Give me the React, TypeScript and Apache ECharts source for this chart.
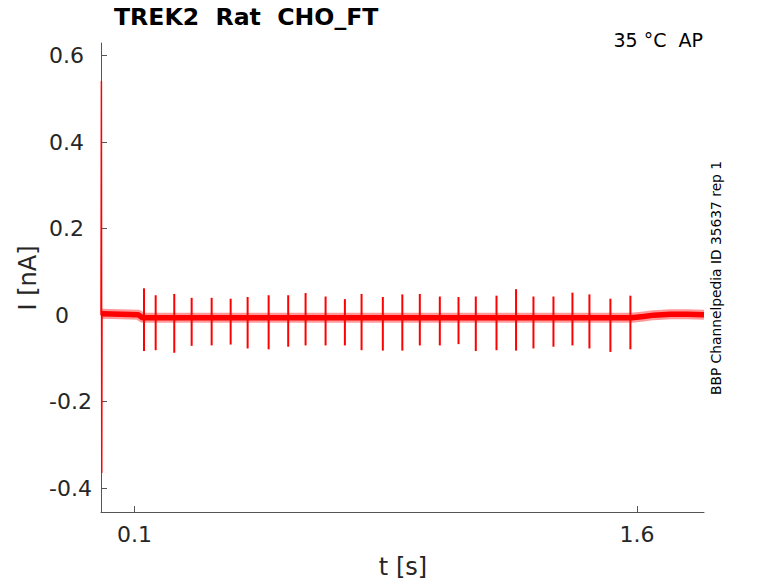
import React, { useEffect, useRef } from "react";
import * as echarts from "echarts";

// Slow baseline of the recorded current (nA) over time (s)
const baseT = [0.003, 0.06, 0.111, 0.124, 0.5, 1.0, 1.5, 1.585, 1.62, 1.65, 1.7, 1.75, 1.8];
const baseV = [0.003, 0.002, 0.001, -0.006, -0.006, -0.006, -0.006, -0.006, -0.003, 0.0, 0.002, 0.002, 0.001];

// Initial capacitive transient
const transT = [0.0, 0.0012, 0.0022, 0.003];
const transV = [0.0, 0.541, -0.365, 0.003];

// Action-potential-evoked current spikes
const spikeT = [
  0.1283, 0.1632, 0.2187, 0.2706, 0.3303, 0.387, 0.4377, 0.5004, 0.5588, 0.6107,
  0.6704, 0.728, 0.7778, 0.8413, 0.8995, 0.9517, 1.0114, 1.0672, 1.1188, 1.1806,
  1.239, 1.2909, 1.3506, 1.4073, 1.458, 1.5206, 1.5803,
];
const spikeUp = [
  0.062, 0.046, 0.049, 0.04, 0.04, 0.038, 0.042, 0.046, 0.046, 0.051,
  0.043, 0.037, 0.049, 0.042, 0.048, 0.049, 0.043, 0.042, 0.043, 0.045,
  0.06, 0.043, 0.043, 0.052, 0.048, 0.038, 0.045,
];
const spikeDown = [
  -0.083, -0.081, -0.087, -0.071, -0.07, -0.068, -0.077, -0.079, -0.073, -0.07,
  -0.07, -0.07, -0.081, -0.082, -0.082, -0.07, -0.07, -0.067, -0.083, -0.081,
  -0.082, -0.077, -0.073, -0.07, -0.077, -0.085, -0.079,
];

const xTicks = [0.1, 1.6];
const yTicks = [-0.4, -0.2, 0, 0.2, 0.4, 0.6];

const FONT = "DejaVu Sans";
const RED = "#ff0000";
const LABEL = "#262626";

export default function App() {
  const ref = useRef<HTMLDivElement>(null);
  useEffect(() => {
    if (!ref.current) return;
    const chart = echarts.init(ref.current, null, { renderer: "svg" });
    const axisCommon = {
      axisLine: { show: true, onZero: false, lineStyle: { color: "#555555", width: 1 } },
      axisTick: { show: true, inside: true, length: 6, lineStyle: { color: "#555555" } },
      splitLine: { show: false },
    };
    const labelFont = { fontFamily: FONT, fontSize: 22, color: LABEL };
    const baseData = baseT.map((t, i) => [t, baseV[i]]);
    chart.setOption({
      animation: false,
      backgroundColor: "#ffffff",
      grid: { left: 101, top: 43, right: 74, bottom: 71, containLabel: false },
      xAxis: {
        type: "value",
        min: 0,
        max: 1.8,
        ...axisCommon,
        axisTick: { ...axisCommon.axisTick, customValues: xTicks },
        axisLabel: { customValues: xTicks, ...labelFont, margin: 11 },
      },
      yAxis: {
        type: "value",
        min: -0.455,
        max: 0.629,
        ...axisCommon,
        axisTick: { ...axisCommon.axisTick, customValues: yTicks },
        axisLabel: {
          customValues: yTicks,
          ...labelFont,
          align: "right",
          margin: 9,
          formatter: (v: number) => {
            const r = Math.round(v * 10) / 10;
            const key = r > 0 ? "pos" : r === 0 ? "zero" : "neg";
            return `{${key}|${r}}`;
          },
          rich: {
            pos: { ...labelFont, padding: [0, 8, 0, 0] },
            zero: { ...labelFont, padding: [0, 23, 0, 0] },
            neg: { ...labelFont },
          },
        },
      },
      series: [
        {
          type: "line",
          data: baseData,
          showSymbol: false,
          lineStyle: { color: RED, width: 10, opacity: 0.4, join: "round", cap: "butt" },
          z: 2,
        },
        {
          type: "line",
          data: baseData,
          showSymbol: false,
          lineStyle: { color: RED, width: 5.5, join: "round", cap: "butt" },
          z: 2,
        },
        {
          type: "line",
          data: transT.map((t, i) => [t, transV[i]]),
          showSymbol: false,
          lineStyle: { color: RED, width: 1.5 },
          z: 3,
        },
        {
          type: "custom",
          data: spikeT.map((t, i) => [t, spikeUp[i], spikeDown[i]]),
          encode: { x: 0, y: [1, 2] },
          z: 4,
          renderItem: (params: any, api: any) => {
            const t = api.value(0);
            const p1 = api.coord([t, api.value(1)]);
            const p2 = api.coord([t, api.value(2)]);
            return {
              type: "line",
              shape: { x1: p1[0], y1: p1[1], x2: p2[0], y2: p2[1] },
              style: { stroke: RED, lineWidth: 2 },
            };
          },
        },
      ],
      graphic: [
        {
          type: "text",
          left: 114,
          top: 5,
          style: { text: "TREK2  Rat  CHO_FT", font: `bold 23.6px "${FONT}"`, fill: "#000000" },
        },
        {
          type: "text",
          x: 703,
          y: 40,
          style: {
            text: "35 °C  AP",
            font: `19px "${FONT}"`,
            fill: "#000000",
            align: "right",
            verticalAlign: "middle",
          },
        },
        {
          type: "text",
          x: 716,
          y: 278,
          rotation: Math.PI / 2,
          style: {
            text: "BBP Channelpedia ID 35637 rep 1",
            font: `13.8px "${FONT}"`,
            fill: "#000000",
            align: "center",
            verticalAlign: "middle",
          },
        },
        {
          type: "text",
          x: 403,
          y: 567,
          style: {
            text: "t [s]",
            font: `24px "${FONT}"`,
            fill: LABEL,
            align: "center",
            verticalAlign: "middle",
          },
        },
        {
          type: "text",
          x: 28,
          y: 278,
          rotation: Math.PI / 2,
          style: {
            text: "I [nA]",
            font: `24px "${FONT}"`,
            fill: LABEL,
            align: "center",
            verticalAlign: "middle",
          },
        },
      ],
    });
    return () => chart.dispose();
  }, []);
  return (
    <div
      ref={ref}
      style={{ position: "absolute", left: 0, top: 0, width: 778, height: 583 }}
    />
  );
}
